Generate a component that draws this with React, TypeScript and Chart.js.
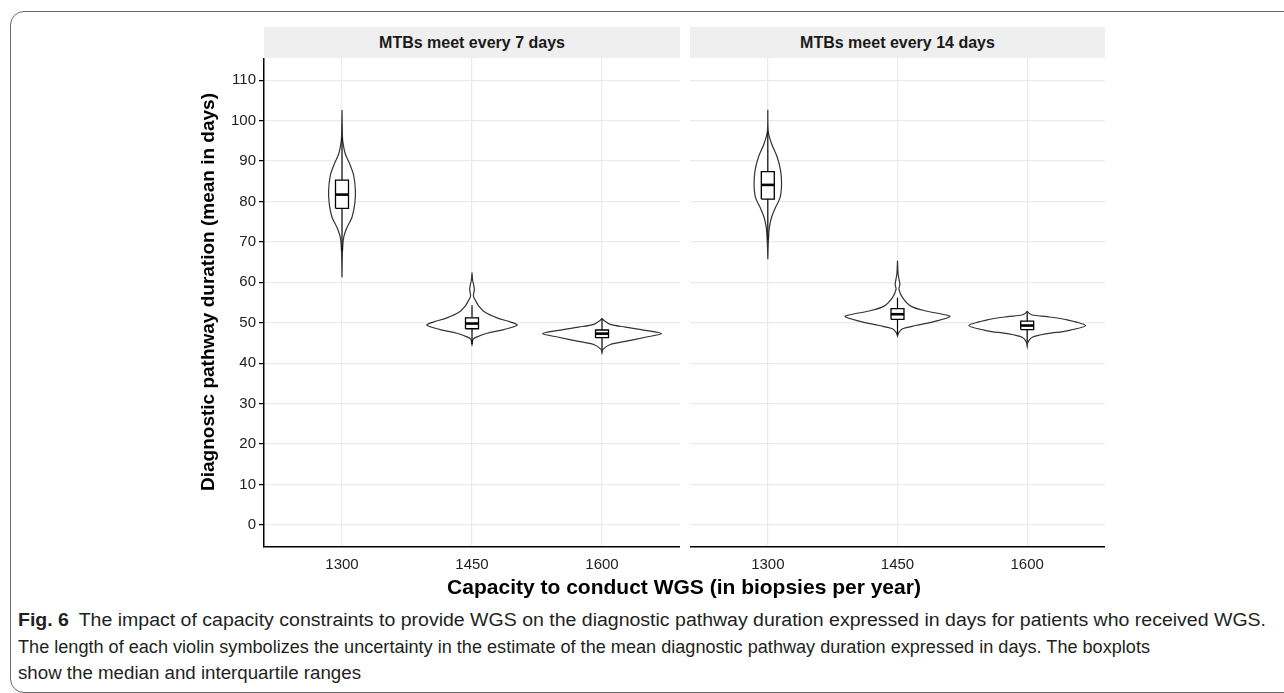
import React, { useEffect, useLayoutEffect, useRef } from 'react';
import { Chart, registerables } from 'chart.js';

Chart.register(...registerables);

const FONT = '"Liberation Sans", Arial, Helvetica, sans-serif';

// ---------- data ----------
const categories = ['1300', '1450', '1600'];
const panelTitles = ['MTBs meet every 7 days', 'MTBs meet every 14 days'];
const yTicks = [0, 10, 20, 30, 40, 50, 60, 70, 80, 90, 100, 110];
const yMin = -5.5;
const yMax = 115.5;
const xTitle = 'Capacity to conduct WGS (in biopsies per year)';
const yTitle = 'Diagnostic pathway duration (mean in days)';
const captionBold = 'Fig. 6';
const captionLines = [
  'The impact of capacity constraints to provide WGS on the diagnostic pathway duration expressed in days for patients who received WGS.',
  'The length of each violin symbolizes the uncertainty in the estimate of the mean diagnostic pathway duration expressed in days. The boxplots',
  'show the median and interquartile ranges',
];

// Violin outlines: y values (days) and half widths (in category units)
const d7_1300_y = [102.6, 97.0, 95.1, 91.8, 89.3, 86.4, 82.7, 79.4, 76.1, 73.6, 71.1, 67.8, 61.2];
const d7_1300_w = [0, 0.003, 0.005, 0.025, 0.059, 0.09, 0.103, 0.098, 0.077, 0.039, 0.013, 0.004, 0];
const d7_1450_y = [62.4, 60.5, 58.3, 56.6, 55.5, 54.1, 52.5, 51.2, 50.2, 49.4, 48.3, 47.4, 46.5, 45.9, 44.6];
const d7_1450_w = [0, 0.005, 0.018, 0.011, 0.027, 0.052, 0.103, 0.193, 0.293, 0.347, 0.245, 0.116, 0.039, 0.009, 0];
const d7_1600_y = [51.1, 50.6, 49.6, 48.9, 48.1, 47.3, 46.4, 45.4, 44.6, 43.4, 42.5];
const d7_1600_w = [0, 0.013, 0.064, 0.18, 0.334, 0.458, 0.334, 0.18, 0.064, 0.008, 0];
const d14_1300_y = [102.7, 97.2, 94.3, 91.0, 87.7, 84.4, 81.0, 78.5, 76.1, 73.6, 70.0, 65.7];
const d14_1300_w = [0, 0.004, 0.029, 0.072, 0.098, 0.106, 0.095, 0.059, 0.029, 0.012, 0.004, 0];
const d14_1450_y = [65.3, 62.0, 59.5, 58.3, 56.2, 54.1, 52.9, 52.1, 51.5, 50.4, 49.3, 48.5, 47.5, 46.7];
const d14_1450_w = [0, 0.005, 0.018, 0.011, 0.039, 0.103, 0.218, 0.347, 0.404, 0.296, 0.141, 0.039, 0.008, 0];
const d14_1600_y = [52.9, 52.5, 51.9, 51.5, 50.7, 49.3, 48.0, 47.3, 46.4, 45.2, 44.1];
const d14_1600_w = [0, 0.008, 0.039, 0.154, 0.309, 0.45, 0.309, 0.154, 0.039, 0.006, 0];

// Boxplot statistics
const d7Q1 = [78.3, 48.5, 46.3];
const d7Med = [81.7, 49.8, 47.3];
const d7Q3 = [85.3, 51.2, 48.2];
const d7Lo = [67.8, 44.7, 43.4];
const d7Hi = [95.8, 54.3, 51.0];
const d14Q1 = [80.6, 50.8, 48.3];
const d14Med = [84.1, 52.1, 49.3];
const d14Q3 = [87.4, 53.5, 50.4];
const d14Lo = [70.5, 47.0, 45.2];
const d14Hi = [97.2, 56.2, 52.6];

// ---------- styling constants ----------
const BOX_HALF = 0.05;
const GRID = '#ebebeb';

type Violin = { y: number[]; w: number[] };
type Stats = { q1: number[]; med: number[]; q3: number[]; lo: number[]; hi: number[] };

function buildDatasets(violins: Violin[], s: Stats) {
  const ds: any[] = [];
  const base = { pointRadius: 0, pointHoverRadius: 0, showLine: true, spanGaps: false };
  violins.forEach((v, i) => {
    const right = v.y.map((y, k) => ({ x: i + v.w[k], y }));
    const left = v.y.map((y, k) => ({ x: i - v.w[k], y })).reverse();
    ds.push({
      ...base,
      data: [...right, ...left],
      borderColor: '#333333',
      borderWidth: 1.2,
      backgroundColor: '#ffffff',
      fill: 'shape',
      tension: 0.3,
      order: 4,
    });
  });
  categories.forEach((_, i) => {
    ds.push({
      ...base,
      data: [{ x: i, y: s.q3[i] }, { x: i, y: s.hi[i] }],
      borderColor: '#000',
      borderWidth: 1.2,
      fill: false,
      tension: 0,
      order: 3,
    });
    ds.push({
      ...base,
      data: [{ x: i, y: s.lo[i] }, { x: i, y: s.q1[i] }],
      borderColor: '#000',
      borderWidth: 1.2,
      fill: false,
      tension: 0,
      order: 3,
    });
    ds.push({
      ...base,
      data: [
        { x: i - BOX_HALF, y: s.q1[i] },
        { x: i + BOX_HALF, y: s.q1[i] },
        { x: i + BOX_HALF, y: s.q3[i] },
        { x: i - BOX_HALF, y: s.q3[i] },
        { x: i - BOX_HALF, y: s.q1[i] },
      ],
      borderColor: '#000',
      borderWidth: 1.3,
      backgroundColor: '#ffffff',
      fill: 'shape',
      tension: 0,
      order: 1,
    });
    ds.push({
      ...base,
      data: [{ x: i - BOX_HALF, y: s.med[i] }, { x: i + BOX_HALF, y: s.med[i] }],
      borderColor: '#000',
      borderWidth: 2.6,
      fill: false,
      tension: 0,
      order: 0,
    });
  });
  return ds;
}

function FacetChart(props: {
  violins: Violin[];
  stats: Stats;
  showY: boolean;
  left: number;
  width: number;
  yAxisWidth: number;
}) {
  const ref = useRef<HTMLCanvasElement | null>(null);
  const height = 519;
  useEffect(() => {
    if (!ref.current) return;
    const chart = new Chart(ref.current, {
      type: 'line',
      data: { datasets: buildDatasets(props.violins, props.stats) },
      options: {
        responsive: false,
        maintainAspectRatio: false,
        animation: false,
        events: [],
        layout: { padding: 0 },
        plugins: { legend: { display: false }, tooltip: { enabled: false }, title: { display: false } },
        scales: {
          x: {
            type: 'linear',
            min: -0.6,
            max: 2.6,
            afterBuildTicks: (s: any) => {
              s.ticks = categories.map((_, i) => ({ value: i }));
            },
            ticks: {
              callback: (v: any) => categories[v] ?? '',
              font: { family: FONT, size: 15 },
              color: '#222',
              padding: 9,
              maxRotation: 0,
              autoSkip: false,
            },
            grid: { color: GRID, lineWidth: 1.2, drawTicks: false },
            border: { display: true, color: '#000', width: 1.5 },
            afterFit: (s: any) => {
              s.height = 30;
              s.paddingLeft = 0;
              s.paddingRight = 0;
            },
          },
          y: {
            type: 'linear',
            min: yMin,
            max: yMax,
            afterBuildTicks: (s: any) => {
              s.ticks = yTicks.map((v) => ({ value: v }));
            },
            ticks: {
              display: props.showY,
              font: { family: FONT, size: 15 },
              color: '#222',
              padding: 3,
            },
            grid: {
              color: GRID,
              lineWidth: 1.2,
              drawTicks: props.showY,
              tickLength: 5,
              tickColor: '#000',
              tickWidth: 1.3,
            },
            border: { display: props.showY, color: '#000', width: 1.5 },
            afterFit: (s: any) => {
              s.width = props.yAxisWidth;
              s.paddingTop = 0;
              s.paddingBottom = 0;
            },
          },
        },
      } as any,
    });
    return () => chart.destroy();
  }, []);
  return (
    <canvas
      ref={ref}
      width={props.width}
      height={height}
      style={{ position: 'absolute', left: props.left, top: 58, width: props.width, height }}
    />
  );
}

const captionWidths = [1248, 1132, 343];

function Caption() {
  const refs = useRef<(HTMLDivElement | null)[]>([]);
  useLayoutEffect(() => {
    refs.current.forEach((el, i) => {
      if (!el) return;
      el.style.transform = 'none';
      const w = el.getBoundingClientRect().width;
      if (w > 0) el.style.transform = `scaleX(${captionWidths[i] / w})`;
    });
  }, []);
  return (
    <>
      {captionLines.map((line, i) => (
        <div
          key={i}
          ref={(el) => {
            refs.current[i] = el;
          }}
          style={{
            position: 'absolute',
            left: 18,
            top: 607 + i * 26.5,
            height: 26,
            lineHeight: '26px',
            fontSize: 18,
            fontFamily: FONT,
            color: '#231f20',
            whiteSpace: 'nowrap',
            transformOrigin: 'left center',
          }}
        >
          {i === 0 ? (
            <>
              <b>{captionBold}</b>
              {'\u2002' + line}
            </>
          ) : (
            line
          )}
        </div>
      ))}
    </>
  );
}

export default function App() {
  const strip = (left: number, width: number, text: string) => (
    <div
      style={{
        position: 'absolute',
        left,
        top: 27,
        width,
        height: 31,
        background: '#efefef',
        fontFamily: FONT,
        fontWeight: 'bold',
        fontSize: 16,
        lineHeight: '31px',
        textAlign: 'center',
        color: '#1a1a1a',
      }}
    >
      {text}
    </div>
  );
  return (
    <div
      style={{
        position: 'fixed',
        left: 0,
        top: 0,
        width: 1284,
        height: 693,
        background: '#fff',
        overflow: 'hidden',
      }}
    >
      <div
        style={{
          position: 'absolute',
          left: 10,
          top: 11,
          width: 1300,
          height: 682,
          border: '1.5px solid #6a6a6a',
          borderRadius: 14,
          boxSizing: 'border-box',
        }}
      />
      {strip(264, 416, panelTitles[0])}
      {strip(690, 415, panelTitles[1])}
      <FacetChart
        violins={[
          { y: d7_1300_y, w: d7_1300_w },
          { y: d7_1450_y, w: d7_1450_w },
          { y: d7_1600_y, w: d7_1600_w },
        ]}
        stats={{ q1: d7Q1, med: d7Med, q3: d7Q3, lo: d7Lo, hi: d7Hi }}
        showY={true}
        left={190}
        width={490}
        yAxisWidth={74}
      />
      <FacetChart
        violins={[
          { y: d14_1300_y, w: d14_1300_w },
          { y: d14_1450_y, w: d14_1450_w },
          { y: d14_1600_y, w: d14_1600_w },
        ]}
        stats={{ q1: d14Q1, med: d14Med, q3: d14Q3, lo: d14Lo, hi: d14Hi }}
        showY={false}
        left={690}
        width={415}
        yAxisWidth={0}
      />
      <div
        style={{
          position: 'absolute',
          left: 208,
          top: 292,
          transform: 'translate(-50%, -50%) rotate(-90deg)',
          whiteSpace: 'nowrap',
          fontFamily: FONT,
          fontWeight: 'bold',
          fontSize: 19,
          color: '#000',
        }}
      >
        {yTitle}
      </div>
      <div
        style={{
          position: 'absolute',
          left: 684,
          top: 587,
          transform: 'translate(-50%, -50%)',
          whiteSpace: 'nowrap',
          fontFamily: FONT,
          fontWeight: 'bold',
          fontSize: 21,
          color: '#000',
        }}
      >
        {xTitle}
      </div>
      <Caption />
    </div>
  );
}
